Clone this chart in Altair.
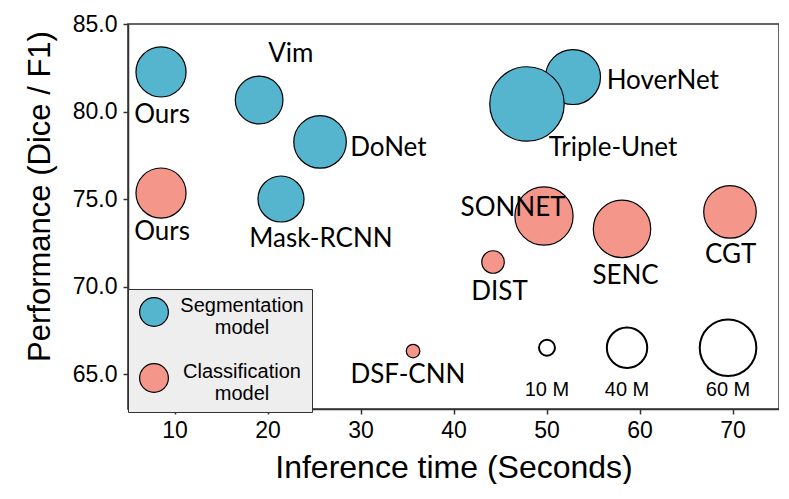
import altair as alt
import pandas as pd

# ---- data ----
models = ["Ours", "Vim", "DoNet", "Mask-RCNN", "HoverNet", "Triple-Unet",
          "Ours", "SONNET", "SENC", "CGT", "DIST", "DSF-CNN"]
kinds = ["Segmentation model"] * 6 + ["Classification model"] * 6
time_s = [8.55, 19.1, 25.65, 21.45, 52.85, 47.9, 8.55, 49.73, 58.12, 69.73, 44.25, 35.65]
perf = [82.26, 80.66, 78.26, 75.0, 81.97, 80.43, 75.34, 74.03, 73.29, 74.26, 71.4, 66.31]
params_m = [52, 49, 55, 47, 58, 82, 52, 62, 61, 55, 18, 7]
label_x = [8.66, 22.5, 33.0, 25.75, 62.5, 57.15, 8.66, 46.4, 58.5, 69.8, 44.95, 35.1]
label_y = [79.8, 83.31, 77.89, 72.71, 81.77, 77.89, 73.14, 74.49, 70.6, 71.8, 69.71, 64.97]

ref_params = [10, 40, 60]
ref_names = ["10 M", "40 M", "60 M"]
ref_x = [50.05, 58.66, 69.52]
ref_y = [66.5, 66.5, 66.5]
ref_label_y = [64.09, 64.09, 64.09]

kind_order = ["Segmentation model", "Classification model"]
kind_colors = ["#55b5cf", "#f4968a"]

df = pd.DataFrame({"model": models, "kind": kinds, "time": time_s, "perf": perf,
                   "params": params_m, "lx": label_x, "ly": label_y})
ref = pd.DataFrame({"params": ref_params, "name": ref_names, "time": ref_x,
                    "perf": ref_y, "ly": ref_label_y})

# bubble radius grows linearly with the parameter count; Vega symbol size = (2r)^2
size_expr = "pow(2 * (3.94 + 0.406 * datum.params), 2)"

xscale = alt.Scale(domain=[5, 75], nice=False, zero=False)
yscale = alt.Scale(domain=[63, 85], nice=False, zero=False)

xaxis = alt.Axis(values=[10, 20, 30, 40, 50, 60, 70], format="d", grid=False,
                 title="Inference time (Seconds)", labelFontSize=23, labelPadding=5,
                 tickSize=5, titleFontSize=32, titleFontWeight="normal",
                 titleY=68, titleBaseline="alphabetic")
yaxis = alt.Axis(values=[65, 70, 75, 80, 85], format=".1f", grid=False,
                 title="Performance (Dice / F1)", labelFontSize=23, labelPadding=6,
                 tickSize=5, titleFontSize=31, titleFontWeight="normal",
                 titleAngle=270, titleX=-88, titleY=172, titleBaseline="middle",
                 titleAlign="center")

bubbles = alt.Chart(df).transform_calculate(area=size_expr).mark_circle(
    opacity=1, stroke="black", strokeWidth=1.2
).encode(
    x=alt.X("time:Q", scale=xscale, axis=xaxis),
    y=alt.Y("perf:Q", scale=yscale, axis=yaxis),
    size=alt.Size("area:Q", scale=None),
    color=alt.Color("kind:N", scale=alt.Scale(domain=kind_order, range=kind_colors),
                    legend=alt.Legend(
                        title=None, orient="none", legendX=0, legendY=265,
                        fillColor="#eeeeee", strokeColor="#333333", padding=8,
                        symbolType="circle", symbolSize=829, symbolStrokeColor="black",
                        symbolStrokeWidth=1.2, symbolOpacity=1, symbolOffset=3,
                        labelExpr="split(datum.label, ' ')", labelAlign="center",
                        labelBaseline="alphabetic", labelOffset=73, labelFontSize=20,
                        labelFont="Liberation Sans", labelColor="black",
                        rowPadding=23, labelLimit=300)),
)

labels = alt.Chart(df).mark_text(
    font="Lato", fontSize=26, color="black", align="center", baseline="middle"
).encode(
    x=alt.X("lx:Q", scale=xscale),
    y=alt.Y("ly:Q", scale=yscale),
    text="model:N",
)

ref_circles = alt.Chart(ref).transform_calculate(area=size_expr).mark_point(
    shape="circle", filled=False, stroke="black", strokeWidth=2, opacity=1
).encode(
    x=alt.X("time:Q", scale=xscale),
    y=alt.Y("perf:Q", scale=yscale),
    size=alt.Size("area:Q", scale=None),
)

ref_labels = alt.Chart(ref).mark_text(
    font="Liberation Sans", fontSize=20, color="black", align="center", baseline="middle"
).encode(
    x=alt.X("time:Q", scale=xscale),
    y=alt.Y("ly:Q", scale=yscale),
    text="name:N",
)

chart = alt.layer(bubbles, labels, ref_circles, ref_labels).properties(
    width=651, height=385, autosize="none",
    padding={"left": 120, "top": 16, "right": 0, "bottom": 75},
).configure_view(
    stroke="#333333", strokeWidth=1.5
).configure_axis(
    domainColor="#333333", domainWidth=1.5, tickColor="#333333", tickWidth=1.5,
    labelColor="black", titleColor="black", labelFont="Liberation Sans",
    titleFont="Liberation Sans"
)

chart.save("out.html", embed_options={"renderer": "svg", "actions": False})
